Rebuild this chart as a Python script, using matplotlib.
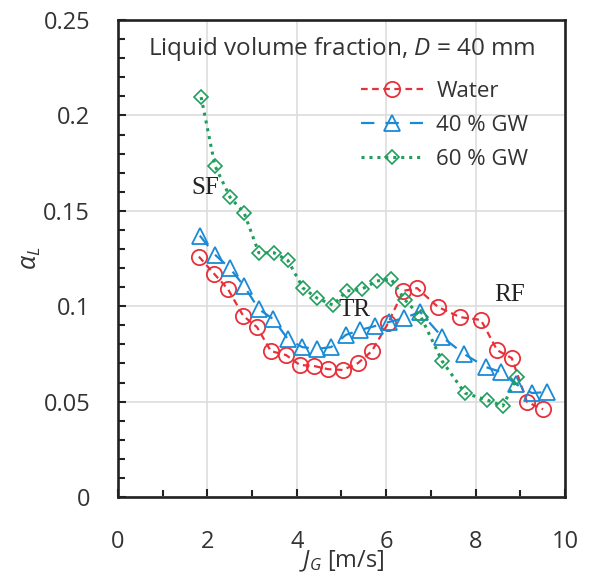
import numpy as np
import matplotlib.pyplot as plt
from matplotlib.ticker import MultipleLocator, FuncFormatter

# liquid volume fraction vs superficial gas velocity, D = 40 mm
jg_water = [1.81, 2.15, 2.46, 2.80, 3.11, 3.42, 3.76, 4.07, 4.38, 4.70, 5.03, 5.37,
            5.68, 6.04, 6.38, 6.69, 7.16, 7.65, 8.12, 8.48, 8.81, 9.15, 9.51]
al_water = [0.126, 0.117, 0.109, 0.095, 0.089, 0.0765, 0.0744, 0.0692, 0.0687, 0.067,
            0.0666, 0.0702, 0.0765, 0.091, 0.108, 0.1095, 0.0996, 0.0943, 0.0928,
            0.077, 0.0728, 0.0498, 0.046]

jg_gw40 = [1.83, 2.17, 2.50, 2.82, 3.15, 3.47, 3.80, 4.12, 4.45, 4.77, 5.10, 5.41,
           5.75, 6.06, 6.40, 6.76, 7.25, 7.74, 8.23, 8.57, 8.90, 9.26, 9.60]
al_gw40 = [0.137, 0.127, 0.120, 0.1106, 0.0985, 0.0933, 0.0828, 0.0786, 0.0776,
           0.0786, 0.085, 0.0875, 0.0896, 0.0917, 0.0938, 0.097, 0.0839, 0.075,
           0.0681, 0.0655, 0.0592, 0.0545, 0.055]

jg_gw60 = [1.86, 2.17, 2.51, 2.82, 3.15, 3.49, 3.80, 4.14, 4.45, 4.81, 5.12, 5.46,
           5.79, 6.11, 6.42, 6.78, 7.25, 7.76, 8.26, 8.61, 8.93]
al_gw60 = [0.2096, 0.1735, 0.157, 0.149, 0.128, 0.128, 0.124, 0.1095, 0.1043, 0.1006,
           0.108, 0.109, 0.1132, 0.1143, 0.1033, 0.0943, 0.0713, 0.0545, 0.0508,
           0.0477, 0.0629]

regimes = ['SF', 'TR', 'RF']
regime_x = [1.95, 5.3, 8.77]
regime_y = [0.162, 0.098, 0.106]

plt.rcParams['font.family'] = ['Open Sans', 'DejaVu Sans']
plt.rcParams['mathtext.fontset'] = 'custom'
plt.rcParams['mathtext.rm'] = 'Open Sans'
plt.rcParams['mathtext.it'] = 'Open Sans:italic'

fig = plt.figure(figsize=(5.9, 5.77), dpi=100)
ax = fig.add_axes([0.2, 0.1386, 0.7576, 0.8267])

ax.plot(jg_water, al_water, color='#e8303a', ls=(0, (3, 2)), lw=1.6, marker='o',
        ms=11, mfc='none', mec='#e8303a', mew=1.3, label='Water', zorder=3)
ax.plot(jg_gw40, al_gw40, color='#1b8ad6', ls=(0, (6, 5)), lw=1.6, marker='^',
        ms=11, mfc='none', mec='#1b8ad6', mew=1.3, label='40 % GW', zorder=3)
ax.plot(jg_gw60, al_gw60, color='#1f9e5c', ls=(0, (1, 1.6)), lw=2.2, marker='D',
        ms=7.5, mfc='none', mec='#1f9e5c', mew=1.2, label='60 % GW', zorder=3)

for lab, xx, yy in zip(regimes, regime_x, regime_y):
    ax.text(xx, yy, lab, family='Liberation Serif', fontsize=18, color='#222222',
            ha='center', va='center', zorder=4)

ax.set_xlim(0, 10)
ax.set_ylim(0, 0.25)
ax.xaxis.set_major_locator(MultipleLocator(2))
ax.xaxis.set_minor_locator(MultipleLocator(1))
ax.yaxis.set_major_locator(MultipleLocator(0.05))
ax.yaxis.set_minor_locator(MultipleLocator(0.01))
ax.yaxis.set_major_formatter(FuncFormatter(lambda v, p: '%g' % round(v, 3)))
ax.tick_params(which='both', direction='in', width=1.5, color='#222222',
               labelsize=17, labelcolor='#333333')
ax.tick_params(which='major', length=6)
ax.tick_params(which='minor', length=5)
ax.tick_params(axis='y', which='major', pad=20)
ax.tick_params(axis='x', which='major', pad=24)
for s in ax.spines.values():
    s.set_linewidth(1.9)
    s.set_color('#222222')
ax.grid(True, which='major', color='#dddddd', lw=1.2)
ax.set_axisbelow(True)

ax.set_xlabel(r'$J_G$ [m/s]', fontsize=17, color='#333333', labelpad=-4)
ax.set_ylabel(r'$\alpha_L$', fontsize=18, color='#333333', labelpad=0)

ax.text(0.5, 0.94, r'Liquid volume fraction, $D$ = 40 mm', transform=ax.transAxes,
        ha='center', va='center', fontsize=17.5, color='#333333')
ax.legend(loc='upper right', bbox_to_anchor=(0.963, 0.915), frameon=False, fontsize=16,
          handlelength=2.8, handletextpad=0.6, labelspacing=0.6,
          labelcolor='#333333')

fig.savefig('out.png', dpi=100)
